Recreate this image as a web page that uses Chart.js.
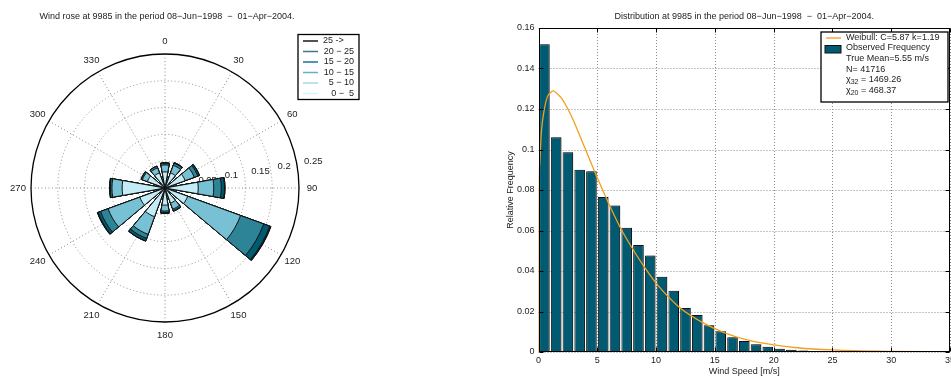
<!DOCTYPE html>
<html>
<head>
<meta charset="utf-8">
<script src="https://cdn.jsdelivr.net/npm/chart.js@4/dist/chart.umd.min.js"></script>
<style>
  html, body { margin: 0; padding: 0; background: #fff; width: 951px; height: 376px; overflow: hidden; }
  #rose { position: absolute; left: 0; top: 0; }
  #dist { position: absolute; left: 490px; top: 0; }
</style>
</head>
<body>
<canvas id="rose" width="480" height="376"></canvas>
<canvas id="dist" width="470" height="376"></canvas>
<script>
// ---- wind rose data ----
const directions = [0, 30, 60, 90, 120, 150, 180, 210, 240, 270, 300, 330];
const speedClasses = ['0 \u2212  5', ' 5 \u2212 10', '10 \u2212 15', '15 \u2212 20', '20 \u2212 25', '25 ->'];
const freq0to5   = [0.030, 0.030, 0.040, 0.062, 0.045, 0.030, 0.032, 0.057, 0.050, 0.080, 0.035, 0.030];
const freq5to10  = [0.013, 0.015, 0.018, 0.029, 0.105, 0.012, 0.011, 0.035, 0.063, 0.019, 0.010, 0.010];
const freq10to15 = [0.003, 0.004, 0.007, 0.014, 0.046, 0.003, 0.003, 0.008, 0.015, 0.003, 0.002, 0.003];
const freq15to20 = [0.001, 0.001, 0.003, 0.006, 0.012, 0.001, 0.001, 0.005, 0.005, 0.001, 0.0005, 0.0005];
const freq20to25 = [0, 0.0005, 0.0005, 0.001, 0.002, 0, 0.0005, 0.0005, 0.001, 0.0005, 0, 0];
const freq25up   = [0, 0, 0, 0, 0.0005, 0, 0, 0, 0.0005, 0, 0, 0];
const roseTicks = [0.05, 0.1, 0.15, 0.2, 0.25];
const angleTicks = [0, 30, 60, 90, 120, 150, 180, 210, 240, 270, 300, 330];

// ---- distribution data ----
const speedBins = [0.5, 1.5, 2.5, 3.5, 4.5, 5.5, 6.5, 7.5, 8.5, 9.5, 10.5, 11.5, 12.5, 13.5, 14.5, 15.5, 16.5,
  17.5, 18.5, 19.5, 20.5, 21.5, 22.5, 23.5, 24.5, 25.5, 26.5, 27.5, 28.5, 29.5, 30.5, 31.5, 32.5, 33.5, 34.5];
const observedFreq = [0.152, 0.106, 0.0986, 0.090, 0.0892, 0.0765, 0.0723, 0.0614, 0.0528, 0.0476, 0.0372,
  0.0303, 0.0217, 0.0183, 0.0132, 0.0102, 0.0073, 0.0054, 0.0038, 0.0026, 0.0016, 0.0011, 0.0008, 0.0005,
  0.0004, 0.0003, 0.0002, 0.0002, 0.0001, 0.0001, 0.0001, 0.0001, 0.0001, 0.0001, 0.0001];
const weibullSpeed = [0, 0.02, 0.1, 0.25, 0.5, 0.75, 1, 1.25, 1.5, 2, 2.5, 3, 3.5, 4, 5, 6, 7, 8, 9, 10,
  12, 14, 16, 18, 20, 22, 25, 30, 35];
const weibullFreq = [0, 0.069, 0.093, 0.109, 0.120, 0.126, 0.128, 0.129, 0.128, 0.125, 0.120, 0.114, 0.107,
  0.100, 0.086, 0.073, 0.061, 0.051, 0.042, 0.034, 0.022, 0.0144, 0.0091, 0.0056, 0.0035, 0.0021, 0.0010,
  0.0003, 0.0001];
const speedTicks = [0, 5, 10, 15, 20, 25, 30, 35];
const freqTicks = [0, 0.02, 0.04, 0.06, 0.08, 0.1, 0.12, 0.14, 0.16];

const FONT = '"Liberation Sans", Arial, Helvetica, sans-serif';
Chart.defaults.font.family = FONT;
Chart.defaults.font.size = 9;
Chart.defaults.color = '#222';

// ---------------- wind rose ----------------
const petalAngle = 20, gapAngle = 10;
const roseColors = ['#c4ecf7', '#78c0d3', '#2e8497', '#005a70', '#0b3e4c', '#000000'];
const legendLineColors = ['#d9f3fa', '#a3d8e6', '#64b0c4', '#1f7090', '#3f7886', '#1a1a1a'];

const roseLabels = [];
directions.forEach(d => { roseLabels.push(String(d)); roseLabels.push(''); });

let running = directions.map(() => 0);
const roseDatasets = [freq0to5, freq5to10, freq10to15, freq15to20, freq20to25, freq25up].map((f, k) => {
  running = running.map((v, i) => v + f[i]);
  const data = [];
  running.forEach(v => { data.push(v); data.push(0); });
  return {
    label: speedClasses[k],
    data: data,
    backgroundColor: roseColors[k],
    borderColor: '#111',
    borderWidth: ctx => (ctx.dataIndex % 2 ? 0 : 1),
    angle: ctx => (ctx.dataIndex % 2 ? gapAngle : petalAngle)
  };
});

const roseDecor = {
  id: 'roseDecor',
  beforeDatasetsDraw(chart) {
    const s = chart.scales.r, ctx = chart.ctx;
    const cx = s.xCenter, cy = s.yCenter, R = s.drawingArea;
    ctx.save();
    ctx.strokeStyle = '#8c8c8c';
    ctx.lineWidth = 1;
    ctx.setLineDash([1, 2.5]);
    roseTicks.slice(0, -1).forEach(v => {
      ctx.beginPath();
      ctx.arc(cx, cy, s.getDistanceFromCenterForValue(v), 0, 2 * Math.PI);
      ctx.stroke();
    });
    angleTicks.forEach(a => {
      const t = a * Math.PI / 180;
      ctx.beginPath();
      ctx.moveTo(cx, cy);
      ctx.lineTo(cx + R * Math.sin(t), cy - R * Math.cos(t));
      ctx.stroke();
    });
    ctx.setLineDash([]);
    ctx.strokeStyle = '#000';
    ctx.lineWidth = 1.3;
    ctx.beginPath();
    ctx.arc(cx, cy, R, 0, 2 * Math.PI);
    ctx.stroke();

    ctx.fillStyle = '#222';
    ctx.font = '9.5px ' + FONT;
    ctx.textAlign = 'center';
    ctx.textBaseline = 'middle';
    angleTicks.forEach(a => {
      const t = a * Math.PI / 180, rr = R + 13;
      ctx.fillText(String(a), cx + rr * Math.sin(t), cy - rr * Math.cos(t));
    });
    ctx.textAlign = 'left';
    const lt = 80 * Math.PI / 180;
    roseTicks.forEach(v => {
      const r = s.getDistanceFromCenterForValue(v);
      ctx.fillText(String(v), cx + r * Math.sin(lt) + 7, cy - r * Math.cos(lt) - 3);
    });
    ctx.restore();
  },
  afterDraw(chart) {
    const ctx = chart.ctx;
    ctx.save();
    ctx.fillStyle = '#222';
    ctx.font = '9px ' + FONT;
    ctx.textAlign = 'center';
    ctx.textBaseline = 'middle';
    ctx.fillText('Wind rose at 9985 in the period 08\u2212Jun\u22121998  \u2212  01\u2212Apr\u22122004.', 167, 17);

    // legend box
    ctx.fillStyle = '#fff';
    ctx.fillRect(298, 34.5, 61, 65);
    ctx.strokeStyle = '#000';
    ctx.lineWidth = 1.3;
    ctx.strokeRect(298, 34.5, 61, 65);
    ctx.font = '9px ' + FONT;
    for (let k = speedClasses.length - 1, row = 0; k >= 0; k--, row++) {
      const yy = 41 + row * 10.5;
      ctx.strokeStyle = legendLineColors[k];
      ctx.lineWidth = 1.5;
      ctx.beginPath();
      ctx.moveTo(303, yy);
      ctx.lineTo(318, yy);
      ctx.stroke();
      ctx.fillStyle = '#222';
      if (k === speedClasses.length - 1) {
        ctx.textAlign = 'left';
        ctx.fillText(speedClasses[k], 323, yy);
      } else {
        ctx.textAlign = 'right';
        ctx.fillText(speedClasses[k], 354, yy);
      }
    }
    ctx.restore();
  }
};

new Chart(document.getElementById('rose'), {
  type: 'polarArea',
  data: { labels: roseLabels, datasets: roseDatasets },
  options: {
    responsive: false,
    animation: false,
    layout: { padding: { left: 31, top: 54, right: 181, bottom: 54 } },
    plugins: { legend: { display: false }, tooltip: { enabled: false } },
    scales: {
      r: {
        min: 0,
        max: 0.25,
        startAngle: -petalAngle / 2,
        ticks: { display: false, stepSize: 0.05 },
        grid: { display: false },
        angleLines: { display: false },
        pointLabels: { display: false }
      }
    }
  },
  plugins: [roseDecor]
});

// ---------------- distribution ----------------
const barShadow = {
  id: 'barShadow',
  beforeDatasetDraw(chart, args) {
    if (args.index !== 1) return;
    chart.ctx.save();
    chart.ctx.shadowColor = 'rgba(0,0,0,0.3)';
    chart.ctx.shadowOffsetX = 2;
    chart.ctx.shadowOffsetY = 0;
    chart.ctx.shadowBlur = 0;
  },
  afterDatasetDraw(chart, args) {
    if (args.index !== 1) return;
    chart.ctx.restore();
  }
};

// dotted grid, drawn under the bars
const distGrid = {
  id: 'distGrid',
  beforeDatasetsDraw(chart) {
    const { ctx, chartArea: a, scales: { x, y } } = chart;
    ctx.save();
    ctx.strokeStyle = '#8a8a8a';
    ctx.lineWidth = 1;
    ctx.setLineDash([1, 2]);
    ctx.beginPath();
    speedTicks.forEach(v => {
      const px = Math.round(x.getPixelForValue(v)) + 0.5;
      ctx.moveTo(px, a.top); ctx.lineTo(px, a.bottom);
    });
    freqTicks.forEach(v => {
      const py = Math.round(y.getPixelForValue(v)) + 0.5;
      ctx.moveTo(a.left, py); ctx.lineTo(a.right, py);
    });
    ctx.stroke();
    ctx.restore();
  }
};

const distDecor = {
  id: 'distDecor',
  afterDraw(chart) {
    const { ctx, chartArea: a, scales: { x, y } } = chart;
    const L = Math.round(a.left) + 0.5, R = Math.round(a.right) - 0.5;
    const T = Math.round(a.top) + 0.5, B = Math.round(a.bottom) - 0.5;
    ctx.save();
    ctx.strokeStyle = '#000';
    ctx.lineWidth = 1;
    ctx.strokeRect(L, T, R - L, B - T);
    ctx.beginPath();
    speedTicks.forEach(v => {
      const px = Math.round(x.getPixelForValue(v)) + 0.5;
      ctx.moveTo(px, B); ctx.lineTo(px, B - 4);
      ctx.moveTo(px, T); ctx.lineTo(px, T + 4);
    });
    freqTicks.forEach(v => {
      const py = Math.round(y.getPixelForValue(v)) + 0.5;
      ctx.moveTo(L, py); ctx.lineTo(L + 4, py);
      ctx.moveTo(R, py); ctx.lineTo(R - 4, py);
    });
    ctx.stroke();

    ctx.fillStyle = '#222';
    ctx.font = '9px ' + FONT;
    ctx.textAlign = 'center';
    ctx.textBaseline = 'middle';
    ctx.fillText('Distribution at 9985 in the period 08\u2212Jun\u22121998  \u2212  01\u2212Apr\u22122004.', (a.left + a.right) / 2, 17);

    // legend box
    const bx = 331, by = 32, bw = 127, bh = 70;
    ctx.fillStyle = '#fff';
    ctx.fillRect(bx, by, bw, bh);
    ctx.strokeStyle = '#000';
    ctx.lineWidth = 1.3;
    ctx.strokeRect(bx, by, bw, bh);
    ctx.strokeStyle = '#f0a020';
    ctx.lineWidth = 1.3;
    ctx.beginPath();
    ctx.moveTo(336, 38); ctx.lineTo(351, 38);
    ctx.stroke();
    ctx.fillStyle = '#005a72';
    ctx.fillRect(335, 45.5, 16, 7.5);
    ctx.strokeStyle = '#111';
    ctx.lineWidth = 1;
    ctx.strokeRect(335, 45.5, 16, 7.5);

    ctx.fillStyle = '#222';
    ctx.textAlign = 'left';
    const tx = 356;
    ctx.fillText('Weibull: C=5.87 k=1.19', tx, 38);
    ctx.fillText('Observed Frequency', tx, 48);
    ctx.fillText('True Mean=5.55 m/s', tx, 59);
    ctx.fillText('N= 41716', tx, 69.5);
    const chi = (sub, rest, yy) => {
      ctx.font = '9px ' + FONT;
      ctx.fillText('\u03c7', tx, yy);
      let w = ctx.measureText('\u03c7').width;
      ctx.font = '7px ' + FONT;
      ctx.fillText(sub, tx + w, yy + 3);
      w += ctx.measureText(sub).width;
      ctx.font = '9px ' + FONT;
      ctx.fillText(rest, tx + w, yy);
    };
    chi('32', ' = 1469.26', 79.5);
    chi('20', ' = 468.37', 90.5);
    ctx.restore();
  }
};

new Chart(document.getElementById('dist'), {
  type: 'bar',
  data: {
    datasets: [
      {
        type: 'line',
        label: 'Weibull: C=5.87 k=1.19',
        data: weibullSpeed.map((v, i) => ({ x: v, y: weibullFreq[i] })),
        borderColor: '#f0a020',
        borderWidth: 1.3,
        pointRadius: 0,
        cubicInterpolationMode: 'monotone',
        fill: false
      },
      {
        type: 'bar',
        label: 'Observed Frequency',
        data: speedBins.map((v, i) => ({ x: v, y: observedFreq[i] })),
        backgroundColor: '#005a72',
        borderColor: '#111',
        borderWidth: 1,
        borderSkipped: false,
        barPercentage: 0.9,
        categoryPercentage: 1
      }
    ]
  },
  options: {
    responsive: false,
    animation: false,
    layout: { padding: { left: 0, top: 28, right: 10, bottom: 0 } },
    plugins: { legend: { display: false }, tooltip: { enabled: false } },
    scales: {
      x: {
        type: 'linear',
        min: 0,
        max: 35,
        offset: false,
        afterBuildTicks: s => { s.ticks = speedTicks.map(v => ({ value: v })); },
        afterFit: s => { s.height = 24; },
        grid: { display: false, drawTicks: false, offset: false },
        border: { display: false },
        ticks: { padding: 3, maxRotation: 0, autoSkip: false, callback: v => String(v) },
        title: { display: true, text: 'Wind Speed [m/s]', padding: 0, font: { size: 9, lineHeight: 1 } }
      },
      y: {
        min: 0,
        max: 0.16,
        afterBuildTicks: s => { s.ticks = freqTicks.map(v => ({ value: v })); },
        afterFit: s => { s.width = 48.5; },
        grid: { display: false, drawTicks: false },
        border: { display: false },
        ticks: { padding: 4, autoSkip: false, callback: v => String(v) },
        title: { display: true, text: 'Relative Frequency', padding: { top: 15.5, bottom: 0 }, font: { size: 9 } }
      }
    }
  },
  plugins: [distGrid, barShadow, distDecor]
});
</script>
</body>
</html>
